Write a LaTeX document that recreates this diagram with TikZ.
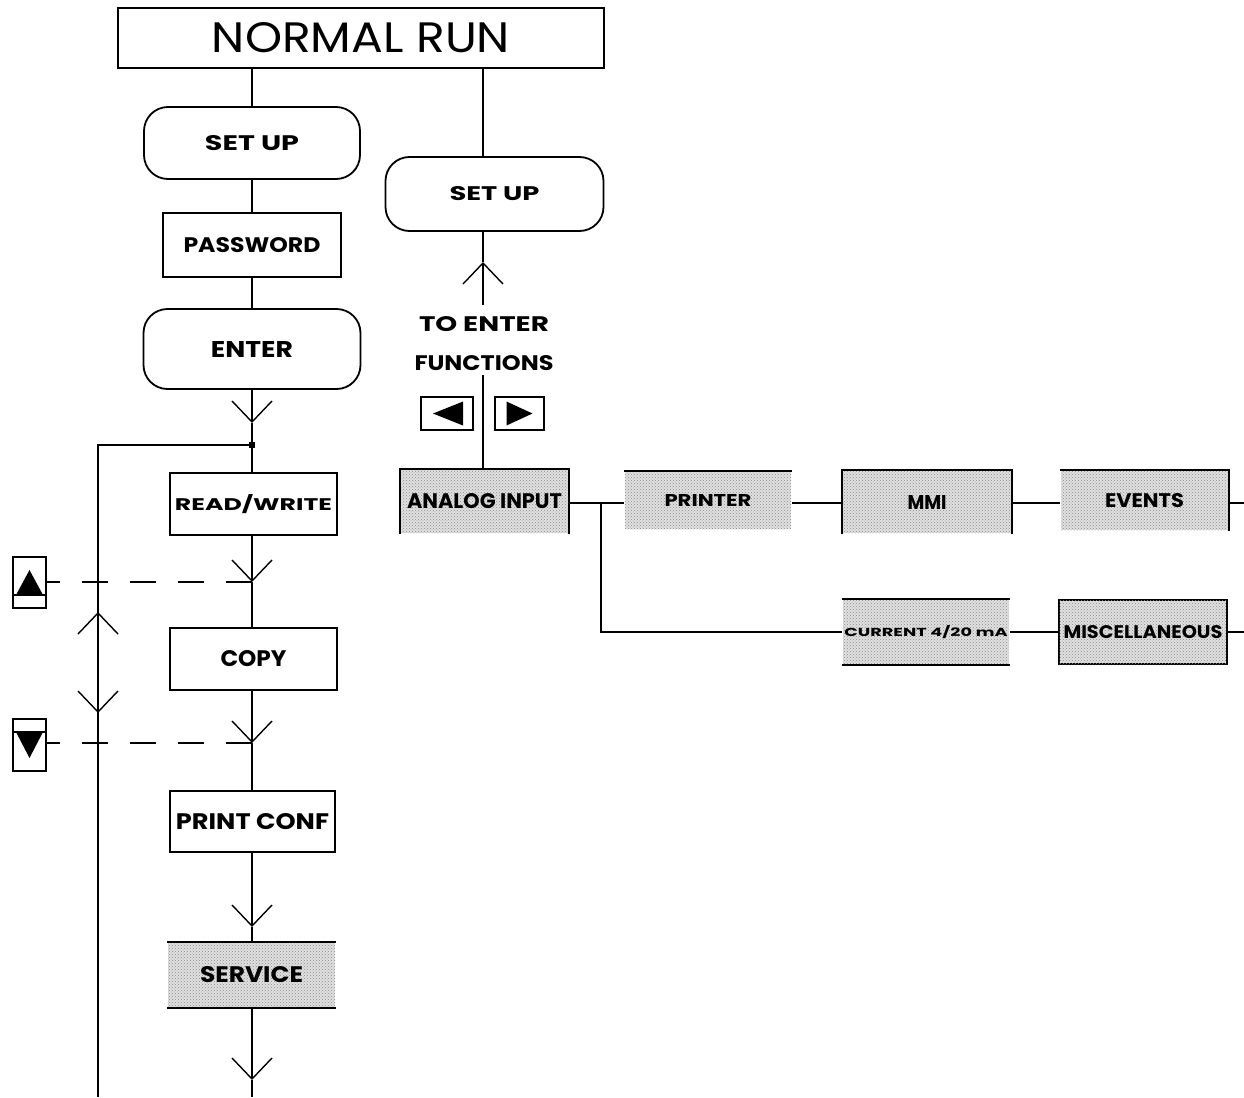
\documentclass[tikz,border=0pt]{standalone}
\usepackage{fontspec}
\setmainfont{Poppins}
\usetikzlibrary{arrows.meta,patterns}
\newcommand{\mylab}[3]{\resizebox{#1pt}{#2pt}{#3}}
\begin{document}
\begin{tikzpicture}[x=1pt,y=-1pt, line width=1.8pt,
  box/.style={draw, fill=white, inner sep=0pt, font=\bfseries},
  term/.style={draw, rounded corners=24pt, inner sep=0pt, font=\bfseries},
  stip/.style={inner sep=0pt, fill=black!12, postaction={pattern=crosshatch dots, pattern color=black!45}, font=\bfseries},
  barb/.style={-{Straight Barb[length=21pt,width=40pt,line width=1.4pt]}},
  keybox/.style={draw, line width=1.6pt, inner sep=0pt},
  dsh/.style={line width=1.6pt, dash pattern=on 26pt off 22pt},
  bord/.style={line width=2pt}
]
\useasboundingbox (0,0) rectangle (1244,1097);

% top box
\node[draw, inner sep=0pt, minimum width=486pt, minimum height=60pt] (nr) at (361,38) {\mylab{298}{30}{NORMAL RUN}};

% left column
\node[term, minimum width=216pt, minimum height=72pt] (su1) at (252,143) {\mylab{94}{15}{SET UP}};
\node[box, minimum width=178pt, minimum height=64pt] (pw) at (252,245) {\mylab{137}{15}{PASSWORD}};
\node[term, minimum width=217pt, minimum height=80pt] (en) at (252,349) {\mylab{82}{16}{ENTER}};
\node[box, minimum width=167pt, minimum height=62pt] (rw) at (253.5,504) {\mylab{157}{16}{READ/WRITE}};
\node[box, minimum width=167pt, minimum height=62pt] (cp) at (253.5,659) {\mylab{66}{16}{COPY}};
\node[box, minimum width=165pt, minimum height=61pt] (pc) at (252.5,821.5) {\mylab{153}{16}{PRINT CONF}};
\node[stip, minimum width=167pt, minimum height=64pt] (sv) at (251.5,975) {\mylab{103}{16}{SERVICE}};
\draw[bord] (sv.north west) -- (sv.north east) (sv.south west) -- (sv.south east);

% right column top
\node[term, minimum width=218pt, minimum height=74pt] (su2) at (494.5,194) {\mylab{90}{14}{SET UP}};
\node[inner sep=0pt, align=center, font=\bfseries] (tef) at (484,343.5) {\mylab{130}{15}{TO ENTER}\\[23pt]\mylab{139}{15}{FUNCTIONS}};
\node[keybox, minimum width=52pt, minimum height=33pt] (kl) at (447,413.5) {};
\node[keybox, minimum width=49pt, minimum height=33pt] (kr) at (519.5,413.5) {};
\fill (kl.center) ++(-14,0) -- ++(30,-12) -- ++(0,24) -- cycle;
\fill (kr.center) ++(13,0) -- ++(-26,-12) -- ++(0,24) -- cycle;

% stippled function boxes
\node[stip, minimum width=167pt, minimum height=63pt] (ai) at (484.5,501.5) {\mylab{155}{15}{ANALOG INPUT}};
\draw[bord] (ai.south west) -- (ai.north west) -- (ai.north east) -- (ai.south east);
\node[stip, minimum width=166pt, minimum height=57pt] (pr) at (708,500.5) {\mylab{87}{12}{PRINTER}};
\draw[bord] (pr.north west) -- (pr.north east);
\node[stip, minimum width=168pt, minimum height=62pt] (mm) at (927,502) {\mylab{39}{14}{MMI}};
\draw[bord] (mm.south west) -- (mm.north west) -- (mm.north east) -- (mm.south east);
\node[stip, minimum width=167pt, minimum height=59pt] (ev) at (1144.5,500.5) {\mylab{79}{14}{EVENTS}};
\draw[bord] (ev.north west) -- (ev.north east) -- (ev.south east);
\node[stip, minimum width=166pt, minimum height=64pt] (cu) at (926,632) {\mylab{163}{11}{CURRENT 4/20 mA}};
\draw[bord] (cu.north west) -- (cu.north east) (cu.south west) -- (cu.south east);
\node[stip, draw, line width=2pt, minimum width=168pt, minimum height=64pt] (mi) at (1143,632) {\mylab{159}{13}{MISCELLANEOUS}};

% coordinates
\coordinate (tU) at (483,262);
\coordinate (tb) at (483,305);
\coordinate (tt) at (483,375);
\coordinate (br) at (601,503);
\coordinate (evR) at (1244,503);
\coordinate (miR) at (1244,632);
\coordinate (t1) at (252,423);
\coordinate (t2) at (252,582);
\coordinate (t3) at (252,743);
\coordinate (t4) at (252,927);
\coordinate (t5) at (252,1080);
\coordinate (bot) at (252,1097);
\coordinate (lb) at (98,1097);
\coordinate (uT) at (98,612);
\coordinate (dT) at (98,713);
\node[fill, minimum size=6pt, inner sep=0pt] (jd) at (252,445) {};

% top connectors
\draw (nr.south -| su1.north) -- (su1.north);
\draw (nr.south -| tU) -- (su2.north -| tU);
\draw (su2.south -| tU) -- (tU);
\draw (su1.south) -- (pw.north);
\draw (pw.south) -- (en.north);

% right column connectors
\draw[barb] (tb) -- (tU);
\draw (tt) -- (ai.north -| tt);
\draw (ai.east |- br) -- (pr.west |- br);
\draw (br) |- (cu.west);
\draw (pr.east |- br) -- (mm.west |- br);
\draw (mm.east |- br) -- (ev.west |- br);
\draw (ev.east |- br) -- (evR);
\draw (cu.east) -- (mi.west);
\draw (mi.east) -- (miR);

% left column connectors
\draw[barb] (en.south) -- (t1);
\draw (t1) -- (rw.north -| t1);
\draw[barb] (rw.south -| t1) -- (t2);
\draw (t2) -- (cp.north -| t2);
\draw[barb] (cp.south -| t3) -- (t3);
\draw (t3) -- (pc.north -| t3);
\draw[barb] (pc.south -| t4) -- (t4);
\draw (t4) -- (sv.north -| t4);
\draw[barb] (sv.south -| t5) -- (t5);
\draw (t5) -- (bot);

% return loop
\draw[barb] (lb) -- (uT);
\draw (uT) |- (jd.center);
\draw[barb] (uT) -- (dT);

% key boxes on the left
\node[keybox, minimum width=33pt, minimum height=51pt] (ku) at (29.5,582.5) {};
\draw[line width=1.4pt] (ku.west |- 0,595) -- (ku.east |- 0,595);
\fill (16,595) -- (43,595) -- (29.5,570) -- cycle;
\node[keybox, minimum width=33pt, minimum height=52pt] (kd) at (29.5,745) {};
\draw[line width=1.4pt] (kd.west |- 0,732) -- (kd.east |- 0,732);
\fill (16,732) -- (43,732) -- (29.5,758) -- cycle;
\draw[dsh] (t2) -- (ku.east |- t2);
\draw[dsh] (t3) -- (kd.east |- t3);
\end{tikzpicture}
\end{document}
